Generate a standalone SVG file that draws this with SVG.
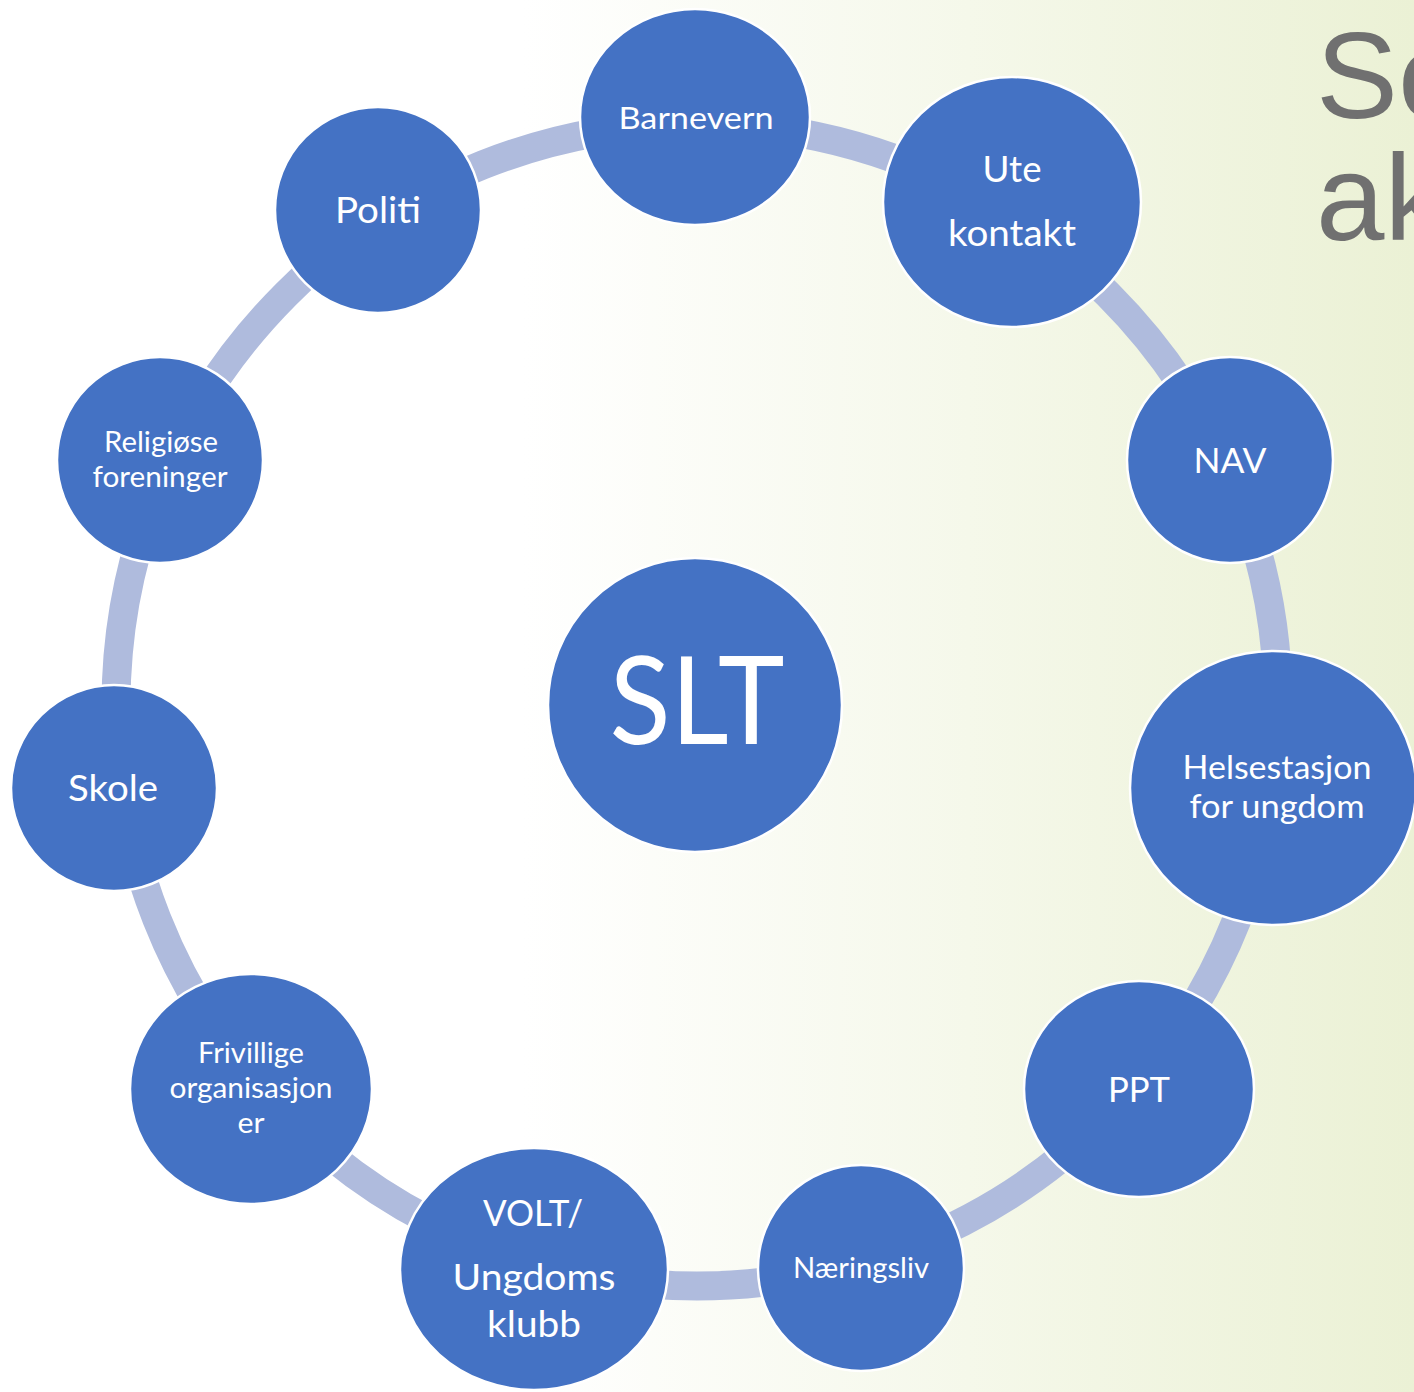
<svg xmlns="http://www.w3.org/2000/svg" width="1414" height="1392" viewBox="0 0 1414 1392">
<defs>
<linearGradient id="bg" x1="0" y1="0" x2="1" y2="0">
<stop offset="0" stop-color="#ffffff"/>
<stop offset="0.37" stop-color="#ffffff"/>
<stop offset="1" stop-color="#ebf1d5"/>
</linearGradient>
<style>
.n{fill:#4472c4;stroke:#ffffff;stroke-width:2.5}
.t{fill:#ffffff;font-family:Lato,"Open Sans",sans-serif;text-anchor:middle}
.ring{fill:none;stroke:#afbbdd;stroke-width:29}
.title{fill:#707070;font-family:"Liberation Sans",Arial,sans-serif;font-size:123px}
</style>
</defs>
<rect x="0" y="0" width="1414" height="1392" fill="url(#bg)"/>
<text class="title" x="1316" y="118">Se</text>
<text class="title" x="1316" y="240">ak</text>
<g id="connectors">
<circle class="ring" cx="697" cy="705" r="581"/>
</g>
<g id="slt"><circle class="n" cx="695" cy="705" r="147"/><text class="t" x="697" y="744" font-size="122" textLength="175" lengthAdjust="spacingAndGlyphs">SLT</text></g>
<g id="barnevern"><ellipse class="n" cx="695" cy="117" rx="115" ry="108"/><text class="t" x="696" y="129" font-size="31" textLength="155" lengthAdjust="spacingAndGlyphs">Barnevern</text></g>
<g id="utekontakt"><ellipse class="n" cx="1012" cy="202" rx="129" ry="125"/><text class="t" x="1012" y="182" font-size="36" textLength="59" lengthAdjust="spacingAndGlyphs">Ute</text><text class="t" x="1012" y="246" font-size="36" textLength="128" lengthAdjust="spacingAndGlyphs">kontakt</text></g>
<g id="nav"><circle class="n" cx="1230" cy="460" r="103"/><text class="t" x="1230" y="473" font-size="35" textLength="73" lengthAdjust="spacingAndGlyphs">NAV</text></g>
<g id="helsestasjon"><ellipse class="n" cx="1273" cy="788" rx="143" ry="137"/><text class="t" x="1277" y="779" font-size="32" textLength="189" lengthAdjust="spacingAndGlyphs">Helsestasjon</text><text class="t" x="1277" y="818" font-size="32" textLength="175" lengthAdjust="spacingAndGlyphs">for ungdom</text></g>
<g id="ppt"><ellipse class="n" cx="1139" cy="1089" rx="115" ry="108"/><text class="t" x="1139" y="1102" font-size="35" textLength="62" lengthAdjust="spacingAndGlyphs">PPT</text></g>
<g id="naeringsliv"><circle class="n" cx="861" cy="1268" r="103"/><text class="t" x="861" y="1278" font-size="28" textLength="136" lengthAdjust="spacingAndGlyphs">Næringsliv</text></g>
<g id="volt"><ellipse class="n" cx="534" cy="1269" rx="134" ry="121"/><text class="t" x="533" y="1226" font-size="37" textLength="100" lengthAdjust="spacingAndGlyphs">VOLT/</text><text class="t" x="534" y="1290" font-size="37" textLength="163" lengthAdjust="spacingAndGlyphs">Ungdoms</text><text class="t" x="534" y="1337" font-size="37" textLength="94" lengthAdjust="spacingAndGlyphs">klubb</text></g>
<g id="frivillige"><ellipse class="n" cx="251" cy="1089" rx="121" ry="115"/><text class="t" x="251" y="1063" font-size="28" textLength="106" lengthAdjust="spacingAndGlyphs">Frivillige</text><text class="t" x="251" y="1098" font-size="28" textLength="163" lengthAdjust="spacingAndGlyphs">organisasjon</text><text class="t" x="251" y="1133" font-size="28" textLength="27" lengthAdjust="spacingAndGlyphs">er</text></g>
<g id="skole"><circle class="n" cx="114" cy="788" r="103"/><text class="t" x="113" y="801" font-size="36" textLength="90" lengthAdjust="spacingAndGlyphs">Skole</text></g>
<g id="religiose"><circle class="n" cx="160" cy="460" r="103"/><text class="t" x="161" y="452" font-size="28" textLength="114" lengthAdjust="spacingAndGlyphs">Religiøse</text><text class="t" x="160" y="487" font-size="28" textLength="135" lengthAdjust="spacingAndGlyphs">foreninger</text></g>
<g id="politi"><circle class="n" cx="378" cy="210" r="103"/><text class="t" x="378" y="223" font-size="36" textLength="86" lengthAdjust="spacingAndGlyphs">Politi</text></g>
</svg>
